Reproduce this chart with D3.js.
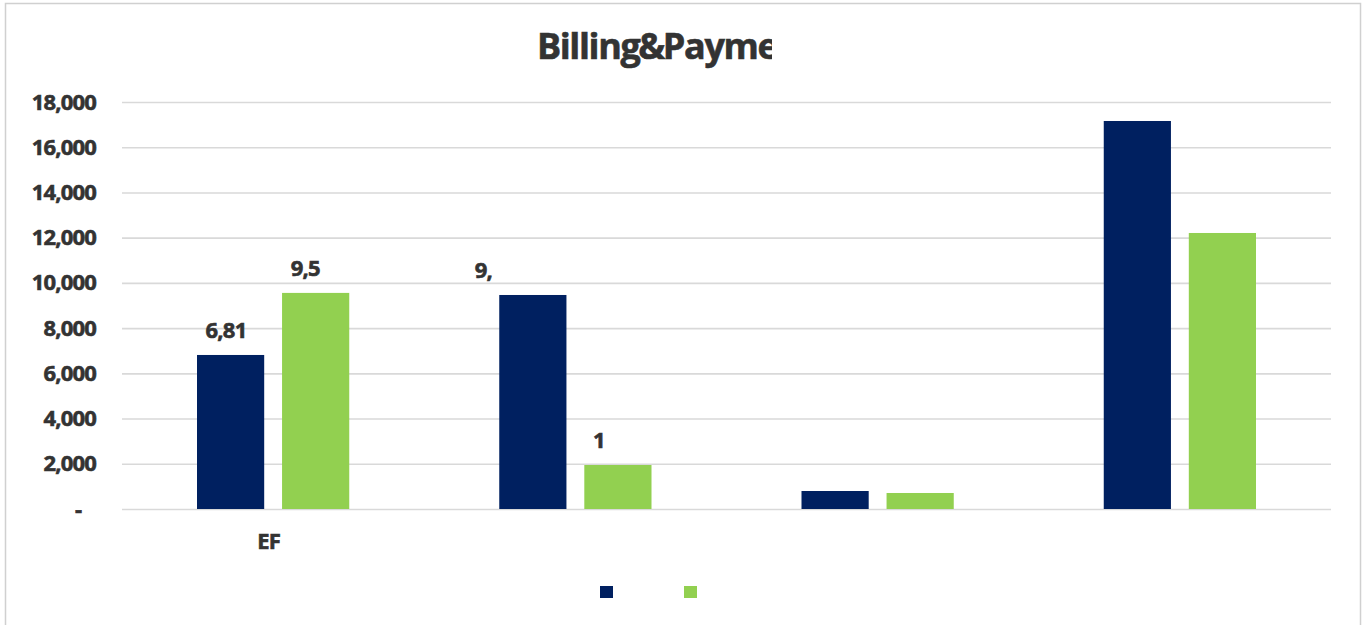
<!DOCTYPE html>
<html>
<head>
  <title>Billing & Payments</title>
  <script src="https://cdn.jsdelivr.net/npm/d3@7/dist/d3.min.js"></script>
  <style>
    body { margin: 0; background: #fff; }
    text { font-family: 'Open Sans', sans-serif; font-weight: bold; fill: #333; }
  </style>
</head>
<body>
  <svg width="1365" height="625" id="mainsvg"></svg>
  <script>
    // data
    const categories = ['EF', 'B', 'C', 'D'];
    const series = ['Series 1', 'Series 2'];
    const navyValues = [6812, 9465, 796, 17160];
    const greenValues = [9557, 1946, 708, 12207];
    const labelTexts = ['6,81', '9,5', '9,', '1']; // what is still visible of each label
    const tickValues = [0, 2000, 4000, 6000, 8000, 10000, 12000, 14000, 16000, 18000];
    const tickLabels = ['-\u00a0\u00a0\u00a0', '2,000', '4,000', '6,000', '8,000', '10,000', '12,000', '14,000', '16,000', '18,000'];
    const colors = ['#002060', '#92d050'];

    const svg = d3.select('#mainsvg');
    const width = +svg.attr('width');
    const height = +svg.attr('height');
    const margin = { top: 102, right: 34, bottom: 116, left: 122 };
    const innerWidth = width - margin.left - margin.right;
    const innerHeight = height - margin.top - margin.bottom;

    // chart frame
    svg.append('rect').attr('x', 5.5).attr('y', 3.5).attr('width', 1355).attr('height', 640)
      .attr('fill', 'white').attr('stroke', '#d0d0d0').attr('stroke-width', 1.5);

    // heavy, tight text like the original
    const heavy = sel => sel.attr('stroke', '#333').attr('stroke-width', 0.6)
      .attr('font-family', "'Open Sans', sans-serif").attr('font-weight', 'bold').attr('fill', '#333');

    // title, cut off on the right like in the original
    svg.append('clipPath').attr('id', 'titleclip')
      .append('rect').attr('x', 0).attr('y', 0).attr('width', 772).attr('height', 90);
    svg.append('text').text('Billing & Payments')
      .attr('x', 537).attr('y', 59)
      .attr('font-size', 36).attr('letter-spacing', -1.4).attr('word-spacing', -9)
      .attr('clip-path', 'url(#titleclip)')
      .call(heavy);

    const g = svg.append('g').attr('transform', `translate(${margin.left}, ${margin.top})`);

    const xScale = d3.scaleBand().domain(categories).range([0, innerWidth]);
    const xInner = d3.scaleBand().domain(series).range([75, xScale.bandwidth() - 75]).paddingInner(0.21);
    const yScale = d3.scaleLinear().domain([0, 18000]).range([innerHeight, 0]);

    // grid lines via axis
    const yAxis = d3.axisLeft(yScale).tickValues(tickValues).tickSize(-innerWidth)
      .tickFormat((d, i) => tickLabels[i]).tickPadding(26);
    const yAxisGroup = g.append('g').call(yAxis);
    yAxisGroup.select('.domain').remove();
    yAxisGroup.selectAll('.tick line').attr('stroke', '#d9d9d9').attr('stroke-width', 1.6);
    yAxisGroup.selectAll('.tick text')
      .attr('font-size', 22).attr('letter-spacing', -0.8)
      .call(heavy);

    const valueSets = [navyValues, greenValues];
    valueSets.forEach((values, s) => {
      g.selectAll(null).data(categories).enter().append('rect')
        .attr('x', d => xScale(d) + xInner(series[s]))
        .attr('y', (d, i) => yScale(values[i]))
        .attr('width', xInner.bandwidth())
        .attr('height', (d, i) => innerHeight - yScale(values[i]))
        .attr('fill', colors[s]);
    });

    // data labels that survived (first two groups)
    const labelBars = [
      { cat: 0, s: 0 }, { cat: 0, s: 1 }, { cat: 1, s: 0 }, { cat: 1, s: 1 }
    ];
    labelBars.forEach((b, i) => {
      const v = valueSets[b.s][b.cat];
      const cx = xScale(categories[b.cat]) + xInner(series[b.s]) + xInner.bandwidth() / 2;
      g.append('text').text(labelTexts[i])
        .attr('x', cx - (i === 2 ? 58 : 25))
        .attr('y', yScale(v) - 17)
        .attr('font-size', 22).attr('letter-spacing', -0.8)
        .call(heavy);
    });

    // category label (only the first one is visible)
    g.append('text').text(categories[0])
      .attr('x', xScale(categories[0]) + xScale.bandwidth() / 2 - 16)
      .attr('y', innerHeight + 40)
      .attr('font-size', 22).attr('letter-spacing', -0.8)
      .call(heavy);

    // legend squares
    const legend = svg.append('g').attr('transform', 'translate(600, 586)');
    colors.forEach((c, i) => {
      legend.append('rect').attr('x', i * 84).attr('y', 0)
        .attr('width', 13).attr('height', 12).attr('fill', c);
    });
  </script>
</body>
</html>
